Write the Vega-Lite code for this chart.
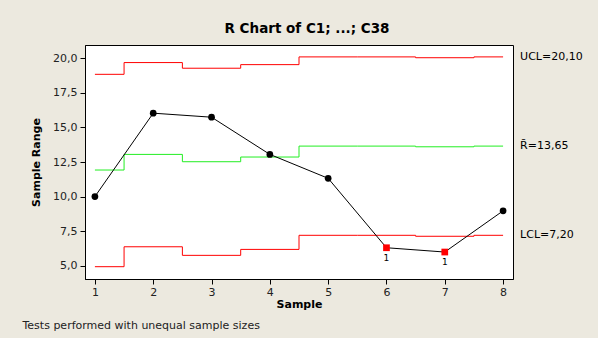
{
  "$schema": "https://vega.github.io/schema/vega-lite/v6.json",
  "width": 428,
  "height": 234,
  "autosize": {"type": "none"},
  "padding": {"left": 85, "top": 45, "right": 85, "bottom": 59},
  "background": "#ECE9DF",
  "config": {
    "view": {"fill": "white", "stroke": "black", "strokeWidth": 1},
    "font": "DejaVu Sans",
    "axis": {
      "labelFont": "DejaVu Sans",
      "labelFontSize": 11,
      "labelColor": "#222222",
      "labelOverlap": false,
      "tickColor": "black",
      "domainColor": "black",
      "grid": false,
      "titleFont": "DejaVu Sans",
      "titleFontSize": 11,
      "titleFontWeight": "bold",
      "titleColor": "black"
    }
  },
  "title": {
    "text": "R Chart of C1; ...; C38",
    "font": "DejaVu Sans",
    "fontSize": 13.5,
    "fontWeight": "bold",
    "color": "black",
    "baseline": "alphabetic",
    "offset": -1,
    "dx": 8
  },
  "datasets": {
    "ranges": [
      {"sample": 1, "range": 10.0, "status": "in", "flag": ""},
      {"sample": 2, "range": 16.03, "status": "in", "flag": ""},
      {"sample": 3, "range": 15.74, "status": "in", "flag": ""},
      {"sample": 4, "range": 13.05, "status": "in", "flag": ""},
      {"sample": 5, "range": 11.32, "status": "in", "flag": ""},
      {"sample": 6, "range": 6.3, "status": "out", "flag": "1"},
      {"sample": 7, "range": 5.99, "status": "out", "flag": "1"},
      {"sample": 8, "range": 8.97, "status": "in", "flag": ""}
    ],
    "limits": [
      {"sample": 1, "UCL": 18.84, "CL": 11.92, "LCL": 4.93},
      {"sample": 2, "UCL": 19.69, "CL": 13.05, "LCL": 6.37},
      {"sample": 3, "UCL": 19.28, "CL": 12.52, "LCL": 5.75},
      {"sample": 4, "UCL": 19.54, "CL": 12.86, "LCL": 6.18},
      {"sample": 5, "UCL": 20.1, "CL": 13.65, "LCL": 7.2},
      {"sample": 6, "UCL": 20.1, "CL": 13.65, "LCL": 7.2},
      {"sample": 7, "UCL": 20.04, "CL": 13.6, "LCL": 7.13},
      {"sample": 8, "UCL": 20.1, "CL": 13.65, "LCL": 7.2}
    ],
    "labels": [
      {"label": "UCL=20,10", "range": 20.1},
      {"label": "R\u0304=13,65", "range": 13.65},
      {"label": "LCL=7,20", "range": 7.2}
    ],
    "note": [
      {"sample": 1, "range": 10.0}
    ]
  },
  "encoding": {
    "y": {
      "field": "range", "type": "quantitative",
      "scale": {"domain": [4.04, 20.96], "nice": false, "zero": false},
      "axis": {
        "values": [5, 7.5, 10, 12.5, 15, 17.5, 20],
        "labelExpr": "replace(format(datum.value, '.1f'), '.', ',')",
        "tickSize": 5,
        "labelPadding": 3,
        "title": "Sample Range",
        "titleAngle": -90,
        "titleBaseline": "middle",
        "titleAlign": "center",
        "titleX": -49,
        "titleY": 117
      }
    }
  },
  "layer": [
    {
      "data": {"name": "limits"},
      "transform": [{"fold": ["UCL", "CL", "LCL"], "as": ["limit", "range"]}],
      "mark": {"type": "line", "interpolate": "step", "strokeWidth": 1, "clip": false},
      "encoding": {
        "x": {
          "field": "sample", "type": "quantitative",
          "scale": {"domain": [0.83, 8.17], "nice": false, "zero": false},
          "axis": {
            "values": [1, 2, 3, 4, 5, 6, 7, 8],
            "format": "d",
            "tickSize": 5,
            "labelPadding": 2,
            "title": "Sample",
            "titleBaseline": "alphabetic",
            "titleY": 28,
            "titleX": 214
          }
        },
        "detail": {"field": "limit"},
        "color": {
          "field": "limit", "type": "nominal",
          "scale": {"domain": ["UCL", "CL", "LCL"], "range": ["#ff0000", "#22ee22", "#ff0000"]},
          "legend": null
        }
      }
    },
    {
      "data": {"name": "ranges"},
      "mark": {"type": "line", "color": "black", "strokeWidth": 1},
      "encoding": {
        "x": {"field": "sample", "type": "quantitative", "axis": null}
      }
    },
    {
      "data": {"name": "ranges"},
      "mark": {"type": "point", "filled": true, "opacity": 1, "size": 45},
      "encoding": {
        "x": {"field": "sample", "type": "quantitative", "axis": null},
        "shape": {
          "field": "status", "type": "nominal",
          "scale": {"domain": ["in", "out"], "range": ["circle", "square"]},
          "legend": null
        },
        "fill": {
          "field": "status", "type": "nominal",
          "scale": {"domain": ["in", "out"], "range": ["black", "#ff0000"]},
          "legend": null
        }
      }
    },
    {
      "data": {"name": "ranges"},
      "mark": {"type": "text", "fontSize": 9, "dy": 10, "baseline": "middle", "color": "black"},
      "encoding": {
        "x": {"field": "sample", "type": "quantitative", "axis": null},
        "text": {"field": "flag"}
      }
    },
    {
      "data": {"name": "labels"},
      "mark": {"type": "text", "align": "left", "baseline": "middle", "dx": 17, "fontSize": 11, "color": "black", "clip": false},
      "encoding": {
        "x": {"datum": 8, "type": "quantitative", "axis": null},
        "text": {"field": "label"}
      }
    },
    {
      "data": {"name": "note"},
      "mark": {"type": "point", "opacity": 0},
      "encoding": {
        "x": {
          "field": "sample", "type": "quantitative",
          "axis": {
            "orient": "bottom",
            "domain": false,
            "ticks": false,
            "labels": false,
            "title": "Tests performed with unequal sample sizes",
            "titleFontWeight": "normal",
            "titleColor": "#222222",
            "titleFontSize": 11,
            "titleAnchor": "start",
            "titleAlign": "left",
            "titleBaseline": "alphabetic",
            "titleX": -63,
            "titleY": 49
          }
        }
      }
    }
  ],
  "resolve": {"axis": {"x": "independent"}}
}
